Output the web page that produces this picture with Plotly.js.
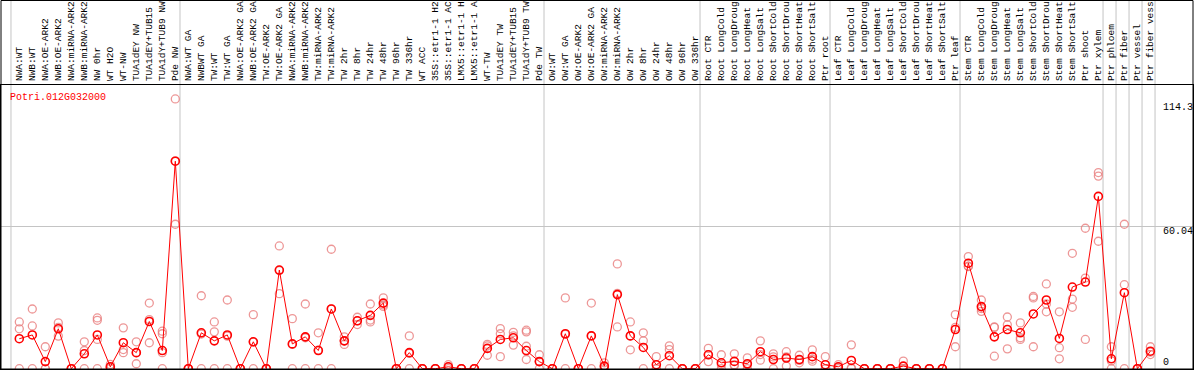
<!DOCTYPE html>
<html>
<head>
<meta charset="utf-8">
<script src="https://cdn.plot.ly/plotly-3.0.1.min.js"></script>
<style>html,body{margin:0;padding:0;background:#fff}#chart{width:1194px;height:370px}</style>
</head>
<body>
<div id="chart"></div>
<script>
const geneName = "Potri.012G032000";
const categories = [
"NWA:WT","NWB:WT","NWA:OE-ARK2","NWB:OE-ARK2","NWA:miRNA-ARK2","NWB:miRNA-ARK2","NW 0hr","WT H2O","WT-NW","TUA1dEY NW","TUA1dEY+TUB15","TUA1dY+TUB9 NW","Pde NW",
"NWA:WT GA","NWBWT GA","TW:WT","TW:WT GA","NWA:OE-ARK2 GA","NWB:OE-ARK2 GA","TW:OE-ARK2","TW:OE-ARK2 GA","NWA:miRNA-ARK2","NWB:miRNA-ARK2","TW:miRNA-ARK2","TW:miRNA-ARK2","TW 2hr","TW 8hr","TW 24hr","TW 48hr","TW 96hr","TW 336hr","WT ACC","35S::etr1-1 H2","35S::etr1-1 AC","LMX5::etr1-1 H","LMX5::etr1-1 A","WT-TW","TUA1dEY TW","TUA1dEY+TUB15","TUA1dY+TUB9 TW","Pde TW",
"OW:WT","OW:WT GA","OW:OE-ARK2","OW:OE-ARK2 GA","OW:miRNA-ARK2","OW:miRNA-ARK2","OW 2hr","OW 8hr","OW 24hr","OW 48hr","OW 96hr","OW 336hr",
"Root CTR","Root LongCold","Root LongDroug","Root LongHeat","Root LongSalt","Root ShortCold","Root ShortDrou","Root ShortHeat","Root ShortSalt","Ptr root",
"Leaf CTR","Leaf LongCold","Leaf LongDroug","Leaf LongHeat","Leaf LongSalt","Leaf ShortCold","Leaf ShortDrou","Leaf ShortHeat","Leaf ShortSalt","Ptr leaf",
"Stem CTR","Stem LongCold","Stem LongDroug","Stem LongHeat","Stem LongSalt","Stem ShortCold","Stem ShortDrou","Stem ShortHeat","Stem ShortSalt","Ptr shoot","Ptr xylem",
"Ptr phloem","Ptr fiber","Ptr vessel","Ptr fiber vess"
];
// index of first category of each group (and end)
const groupStarts = [0,13,41,53,63,73,84,85,86,87,88];

const meanVals = [
12.7,14.3,3.0,16.9,0,6.3,14.3,0.8,11.0,6.8,20.0,7.7,87.9,
0,15.2,11.8,14.3,0,11.4,0,41.8,10.5,13.5,7.7,25.3,11.8,20.3,22.6,27.8,0,6.8,0,0,0.8,0,0,8.6,12.4,13.1,7.7,3.0,
0,14.8,0,13.9,1.1,31.4,13.9,9.0,1.7,5.5,0,0,
5.9,2.5,3.1,2.1,7.2,3.9,4.5,3.9,5.1,1.7,
0.8,3.5,0,0,0,1.1,0,0,0,16.6,
44.7,26.3,13.5,16.6,15.2,23.2,29.1,12.8,34.6,36.7,73.0,
4.2,32.2,0,7.4
];
const repA = [
19.8,25.3,9.3,19.4,0,11.4,21.5,1.8,17.3,11.4,27.8,15.9,114.3,
0,30.9,19.8,29.1,0,22.9,0,52.0,21.2,27.4,15.2,50.6,13.5,21.8,27.4,30.0,0,13.9,0,0,1.7,0,0,10.3,17.0,15.4,16.3,5.9,
0,30.0,0,27.8,2.5,44.4,19.8,15.2,5.1,9.7,0,0,
8.6,5.9,6.3,4.6,11.8,6.3,7.2,5.7,8.0,5.1,
1.7,10.1,0,0,0,3.2,0,0,0,22.9,
47.5,29.1,17.7,21.9,19.4,30.6,35.9,24.1,48.9,59.5,83.1,
9.3,61.2,0,9.3
];
const repB = [
16.9,18.1,0,17.5,0,7.7,20.5,0.6,8.1,6.8,20.8,6.8,88.0,
0,14.7,15.6,13.8,0,11.3,0,41.6,10.3,13.1,7.9,25.3,11.7,20.3,20.6,27.0,0,6.5,0,0,0.7,0,0,9.7,14.8,13.9,9.5,3.0,
0,14.5,0,14.0,0.8,31.9,13.9,11.8,0,8.1,0,0,
6.0,1.7,1.7,1.7,6.0,5.0,5.0,3.5,4.0,0,
0.6,0.4,0,0,0,0,0,0,0,17.5,
43.4,25.5,17.5,18.6,13.1,30.0,27.4,8.9,29.5,38.4,81.6,
3.3,35.6,0,7.0
];
const repC = [
0,0,0,13.8,0,0,0,0,6.8,2.1,11.0,0,61.2,
0,0,0,0,0,0,0,31.8,0,0,0,0,10.3,18.7,19.8,26.4,0,0,0,0,0,0,0,5.7,5.1,10.0,3.9,0,
0,0,0,0,0,17.7,8.0,0,0,0,0,0,
3.0,0,1.3,0,3.6,0,1.1,2.5,3.2,0,
0,0,0,0,0,0,0,0,0,9.3,
43.3,24.3,5.3,8.4,12.4,9.3,24.1,4.2,26.0,12.4,54.0,
0,0,0,6.0
];
const repD = [
null,null,null,null,null,null,12.4,null,null,null,null,14.8,null,
null,null,null,null,null,null,null,null,null,null,null,null,null,null,null,null,null,null,null,null,null,null,null,null,null,null,15.6,null,
null,null,null,null,null,null,null,null,null,null,null,null,
null,null,null,null,null,null,null,null,null,null,
null,null,null,null,null,null,null,null,null,null,
null,null,null,null,null,null,null,null,null,null,null,
null,null,null,null
];
const yLabelVals = [114.3, 60.04, 0];
const yLabelText = ["114.3", "60.04", "0"];

const idx = categories.map((_, i) => i);
const FONT = '"Liberation Mono", "DejaVu Sans Mono", monospace';
const repColor = 'rgba(232,125,125,0.8)';

const traces = [];
[repA, repB, repC, repD].forEach(r => {
  traces.push({
    x: idx, y: r, type: 'scatter', mode: 'markers',
    marker: {symbol: 'circle-open', size: 8, color: repColor, line: {width: 1.3, color: repColor}},
    hoverinfo: 'skip', showlegend: false
  });
});
traces.push({
  x: idx, y: meanVals, type: 'scatter', mode: 'lines+markers',
  line: {color: '#ff0000', width: 1},
  marker: {symbol: 'circle-open', size: 8, color: '#ff0000', line: {width: 1.6, color: '#ff0000'}},
  hoverinfo: 'skip', showlegend: false
});

const shapes = groupStarts.map(k => ({
  type: 'line', xref: 'x', yref: 'paper', x0: k - 0.64, x1: k - 0.64, y0: 0, y1: 1.31,
  line: {color: '#c4c4c4', width: 1}, layer: 'below'
}));
shapes.push({type: 'rect', xref: 'paper', yref: 'paper', x0: 0, x1: 1, y0: 0, y1: 1.2975,
  line: {color: '#000', width: 1}, fillcolor: 'rgba(0,0,0,0)'});

const annotations = yLabelVals.map((v, i) => ({
  xref: 'paper', yref: 'y', x: 0.9732, y: v, text: yLabelText[i], showarrow: false,
  xanchor: 'left', yanchor: i === 2 ? 'bottom' : 'top', yshift: i === 1 ? 3 : -1,
  font: {family: FONT, size: 10, color: '#000'}
}));
annotations.push({
  xref: 'paper', yref: 'paper', x: 0.0062, y: 0.984, text: geneName, showarrow: false,
  xanchor: 'left', yanchor: 'top', font: {family: FONT, size: 10, color: '#ff0000'}
});

const layout = {
  width: 1194, height: 370,
  margin: {l: 1, r: 1, t: 85, b: 1, pad: 0},
  paper_bgcolor: '#fff', plot_bgcolor: '#fff',
  showlegend: false,
  xaxis: {
    range: [-1.408, 90.28], side: 'top', tickmode: 'array', tickvals: idx, ticktext: categories,
    tickangle: -90, ticks: '', showgrid: false, zeroline: false, ticklabelstandoff: 1,
    showline: true, mirror: true, linecolor: '#000', linewidth: 1,
    tickfont: {family: FONT, size: 9.5, color: '#000'}, automargin: false, fixedrange: true
  },
  yaxis: {
    range: [-0.13, 120.2], tickmode: 'array', tickvals: [60.04], showticklabels: false,
    showgrid: true, gridcolor: '#c4c4c4', gridwidth: 1, zeroline: false,
    showline: true, mirror: true, linecolor: '#000', linewidth: 1, automargin: false, fixedrange: true
  },
  shapes: shapes,
  annotations: annotations,
  hovermode: false
};
Plotly.newPlot('chart', traces, layout, {staticPlot: true, displayModeBar: false});
</script>
</body>
</html>
